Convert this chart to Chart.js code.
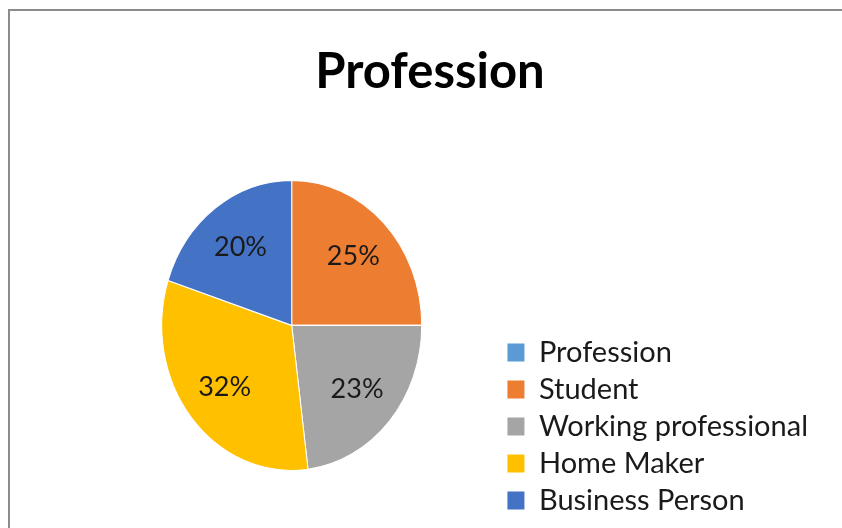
<!DOCTYPE html>
<html>
<head>
<meta charset="utf-8">
<script src="https://cdn.jsdelivr.net/npm/chart.js"></script>
<style>
  html, body { margin: 0; padding: 0; background: #fff; }
  canvas { display: block; }
</style>
</head>
<body>
<canvas id="professionChart" width="842" height="528"></canvas>
<script>
const chartTitle = 'Profession';
const categories = ['Profession', 'Student', 'Working professional', 'Home Maker', 'Business Person'];
const shares = [0, 25, 23, 32, 20];
const sliceColors = ['#5B9BD5', '#ED7D31', '#A5A5A5', '#FFC000', '#4472C4'];

const pieRadius = 130;
const stretchY = 145 / 130; // pie in the picture is a bit taller than wide
const titleShift = -21;      // title sits a little left of the canvas centre
const fontFamily = 'Lato, "Open Sans", sans-serif';

// grey frame round the chart (cut off at right and bottom)
const framePlugin = {
    id: 'frame',
    afterLayout(chart) {
        // nudge the title block left
        chart.titleBlock.left += titleShift;
        chart.titleBlock.right += titleShift;
    },
    beforeDraw(chart) {
        const ctx = chart.ctx;
        ctx.save();
        ctx.strokeStyle = '#8c8c8c';
        ctx.lineWidth = 2;
        ctx.beginPath();
        ctx.moveTo(9, chart.height + 5);
        ctx.lineTo(9, 10);
        ctx.lineTo(chart.width + 5, 10);
        ctx.stroke();
        ctx.restore();
    }
};

// stretch the pie vertically, then put % labels on the slices
const piePlugin = {
    id: 'stretchPie',
    beforeDatasetsDraw(chart) {
        const arc = chart.getDatasetMeta(0).data[0];
        const ctx = chart.ctx;
        ctx.save();
        ctx.translate(arc.x, arc.y);
        ctx.scale(1, stretchY);
        ctx.translate(-arc.x, -arc.y);
    },
    afterDatasetsDraw(chart) {
        const ctx = chart.ctx;
        ctx.restore();

        const meta = chart.getDatasetMeta(0);
        ctx.save();
        ctx.fillStyle = '#1a1a1a';
        ctx.font = '27px ' + fontFamily;
        ctx.textAlign = 'center';
        ctx.textBaseline = 'middle';
        meta.data.forEach((arc, i) => {
            const value = shares[i];
            if (!value) return;
            const mid = (arc.startAngle + arc.endAngle) / 2;
            const r = arc.outerRadius * 0.67;
            const x = arc.x + Math.cos(mid) * r;
            const y = arc.y + Math.sin(mid) * r * stretchY;
            ctx.fillText(value + '%', x, y);
        });
        ctx.restore();
    }
};

new Chart(document.getElementById('professionChart'), {
    type: 'pie',
    data: {
        labels: categories,
        datasets: [{
            data: shares,
            backgroundColor: sliceColors,
            borderColor: '#ffffff',
            borderWidth: 1,
            radius: pieRadius
        }]
    },
    options: {
        responsive: false,
        animation: false,
        events: [],
        layout: {
            padding: { left: 84, right: 24, top: 0, bottom: 5 }
        },
        plugins: {
            title: {
                display: true,
                text: chartTitle,
                color: '#000000',
                font: { family: fontFamily, size: 49, weight: 'bold', lineHeight: 1.2 },
                padding: { top: 43, bottom: 26 }
            },
            legend: {
                position: 'right',
                align: 'end',
                labels: {
                    color: '#1a1a1a',
                    font: { family: fontFamily, size: 29 },
                    boxWidth: 17,
                    boxHeight: 18,
                    padding: 8,
                    generateLabels(chart) {
                        return Chart.overrides.pie.plugins.legend.labels.generateLabels(chart)
                            .map(item => ({ ...item, lineWidth: 0, strokeStyle: item.fillStyle }));
                    }
                }
            },
            tooltip: { enabled: false }
        }
    },
    plugins: [framePlugin, piePlugin]
});
</script>
</body>
</html>
